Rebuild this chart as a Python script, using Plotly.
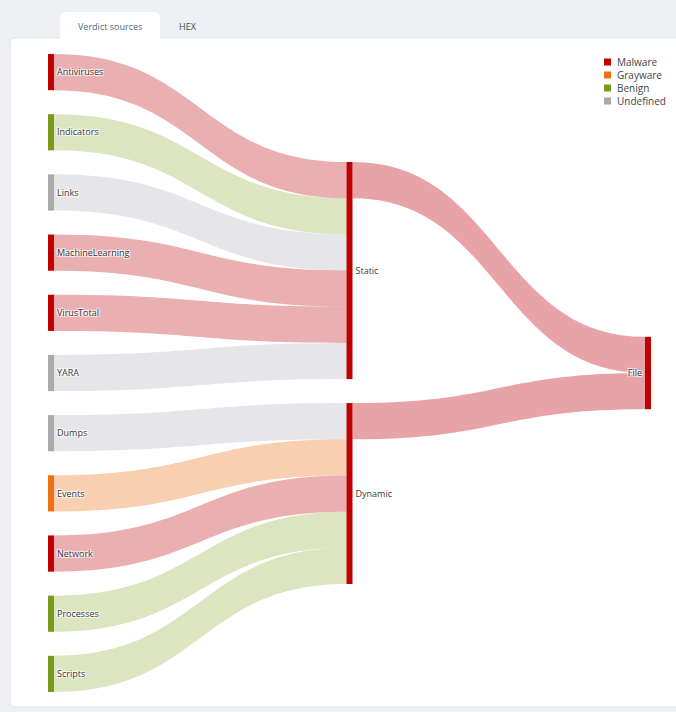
import plotly.graph_objects as go

# ---- data ----
node_labels = ["Antiviruses", "Indicators", "Links", "MachineLearning", "VirusTotal", "YARA",
               "Dumps", "Events", "Network", "Processes", "Scripts",
               "Static", "Dynamic", "File"]
node_verdicts = ["Malware", "Benign", "Undefined", "Malware", "Malware", "Undefined",
                 "Undefined", "Grayware", "Malware", "Benign", "Benign",
                 "Malware", "Malware", "Malware"]
node_columns = [0, 0, 0, 0, 0, 0, 0, 0, 0, 0, 0, 1, 1, 2]
link_sources = ["Antiviruses", "Indicators", "Links", "MachineLearning", "VirusTotal", "YARA",
                "Dumps", "Events", "Network", "Processes", "Scripts",
                "Static", "Dynamic"]
link_targets = ["Static", "Static", "Static", "Static", "Static", "Static",
                "Dynamic", "Dynamic", "Dynamic", "Dynamic", "Dynamic",
                "File", "File"]
link_values = [1, 1, 1, 1, 1, 1, 1, 1, 1, 1, 1, 1, 1]
link_verdicts = ["Malware", "Benign", "Undefined", "Malware", "Malware", "Undefined",
                 "Undefined", "Grayware", "Malware", "Benign", "Benign",
                 "Malware", "Malware"]
legend_items = ["Malware", "Grayware", "Benign", "Undefined"]
tab_labels = ["Verdict sources", "HEX"]

# ---- styles ----
W, H = 676, 712
node_color = {"Malware": "#c00000", "Grayware": "#ec7014", "Benign": "#7a9a1c", "Undefined": "#a9a9a9"}
link_color = {"Malware": "rgba(214,95,100,0.5)", "Grayware": "rgba(243,160,100,0.5)",
              "Benign": "rgba(192,206,140,0.55)", "Undefined": "rgba(210,210,214,0.55)"}
level2_link_color = "rgba(212,88,95,0.55)"
THICK, PAD = 6, 24
dom_x = [48 / W, 651 / W]
dom_y = [1 - 692 / H, 1 - 54 / H]

idx = {n: i for i, n in enumerate(node_labels)}
src_i = [idx[s] for s in link_sources]
tgt_i = [idx[t] for t in link_targets]
lcolors = [level2_link_color if node_columns[s] == 1 else link_color[v]
           for s, v in zip(src_i, link_verdicts)]

# ---- layout: each column packed and centred vertically (computed from values) ----
n = len(node_labels)
inflow = [0.0] * n
outflow = [0.0] * n
for s, t, v in zip(src_i, tgt_i, link_values):
    outflow[s] += v
    inflow[t] += v
node_val = [max(a, b) for a, b in zip(inflow, outflow)]
dw = W * (dom_x[1] - dom_x[0])
dh = H * (dom_y[1] - dom_y[0])
ncols = max(node_columns) + 1
cols = [[i for i in range(n) if node_columns[i] == c] for c in range(ncols)]
ky = min((dh - (len(c) - 1) * PAD) / sum(node_val[i] for i in c) for c in cols)
node_x = [0.0] * n
node_y = [0.0] * n
for c, members in enumerate(cols):
    total = sum(node_val[i] for i in members) * ky + (len(members) - 1) * PAD
    y = (dh - total) / 2
    cx = THICK / 2 + c / (ncols - 1) * (dw - THICK)
    for i in members:
        h = node_val[i] * ky
        node_x[i] = cx / dw
        node_y[i] = (y + h / 2) / dh
        y += h + PAD

fig = go.Figure()
fig.add_trace(go.Sankey(
    domain=dict(x=dom_x, y=dom_y),
    arrangement="fixed",
    node=dict(label=node_labels, color=[node_color[v] for v in node_verdicts],
              thickness=THICK, pad=PAD, line=dict(width=0), x=node_x, y=node_y),
    link=dict(source=src_i, target=tgt_i, value=link_values, color=lcolors),
    textfont=dict(family="Open Sans", size=9, color="#3a3a3a"),
    hoverinfo="none",
))


def px(x):
    return x / W


def py(y):
    return 1 - y / H


# white card and active tab (rounded corners)
r = 6
card = (f"M {px(10)},{py(38 + r)} Q {px(10)},{py(38)} {px(10 + r)},{py(38)} "
        f"L {px(690)},{py(38)} L {px(690)},{py(707)} L {px(10 + r)},{py(707)} "
        f"Q {px(10)},{py(707)} {px(10)},{py(707 - r)} Z")
tab = (f"M {px(60)},{py(39)} L {px(60)},{py(12 + r)} Q {px(60)},{py(12)} {px(60 + r)},{py(12)} "
       f"L {px(160 - r)},{py(12)} Q {px(160)},{py(12)} {px(160)},{py(12 + r)} L {px(160)},{py(39)} Z")
shapes = [
    dict(type="path", xref="paper", yref="paper", path=card,
         fillcolor="white", line=dict(color="#e0e3ea", width=1), layer="below"),
    dict(type="path", xref="paper", yref="paper", path=tab,
         fillcolor="white", line=dict(width=0), layer="below"),
]
annotations = [
    dict(text=tab_labels[0], x=px(110), y=py(26), xref="paper", yref="paper",
         xanchor="center", yanchor="middle", showarrow=False,
         font=dict(family="Open Sans", size=9, color="#56647e")),
    dict(text=tab_labels[1], x=px(188), y=py(26), xref="paper", yref="paper",
         xanchor="center", yanchor="middle", showarrow=False,
         font=dict(family="Open Sans", size=9, color="#4a4a4a")),
]
for k, name in enumerate(legend_items):
    yc = 62 + 13 * k
    shapes.append(dict(type="rect", xref="paper", yref="paper",
                       x0=px(604), x1=px(611), y0=py(yc + 3.5), y1=py(yc - 3.5),
                       fillcolor=node_color[name], line=dict(width=0)))
    annotations.append(dict(text=name, x=px(615), y=py(yc), xref="paper", yref="paper",
                            xanchor="left", yanchor="middle", showarrow=False,
                            font=dict(family="Open Sans", size=10, color="#444444")))

fig.update_layout(
    width=W, height=H,
    margin=dict(l=0, r=0, t=0, b=0),
    paper_bgcolor="#eef0f4",
    showlegend=False,
    shapes=shapes,
    annotations=annotations,
)

fig.write_html("out.html", config={"displayModeBar": False},
               post_script="document.body.style.margin='0';")
